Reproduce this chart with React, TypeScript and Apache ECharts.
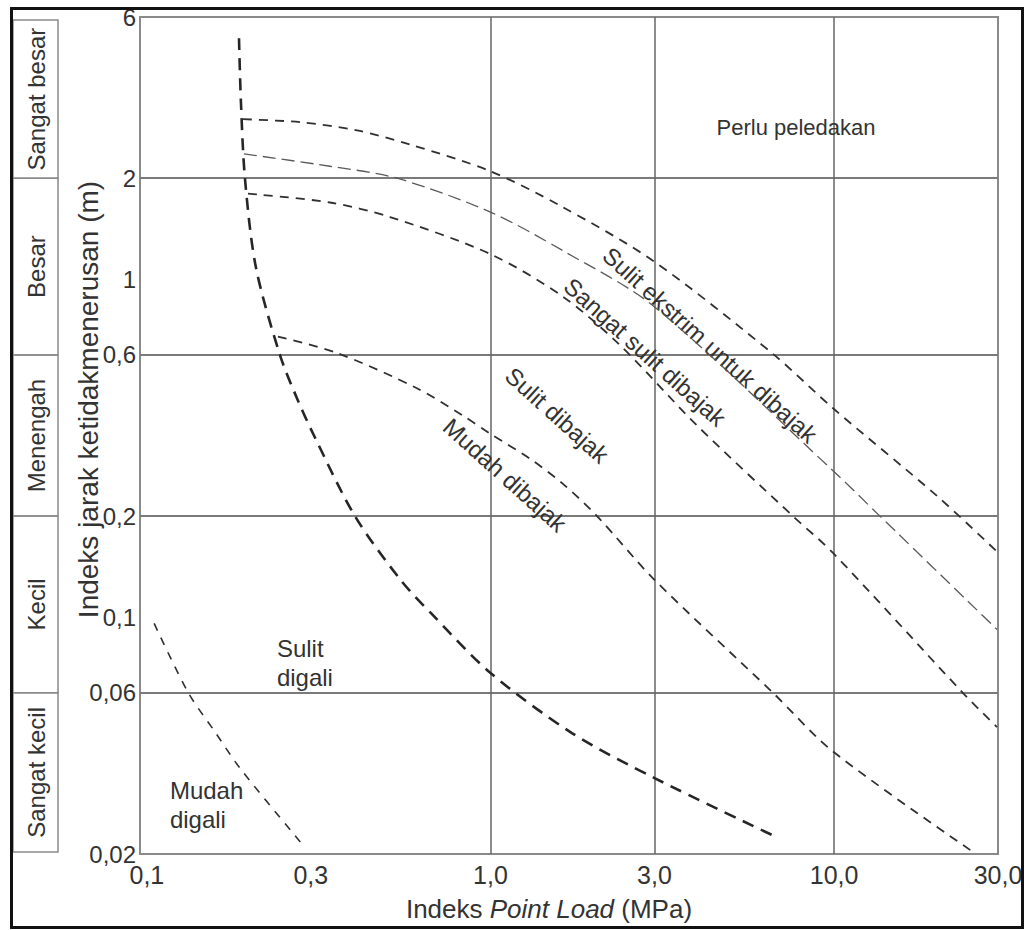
import React, { useEffect, useRef } from "react";
import * as echarts from "echarts";

const FONT = "'Liberation Sans', Arial, Helvetica, sans-serif";
const TEXT = "#333";

// Axis ranges (raw values; axes are drawn in log10 space)
const xMin = 0.0955;
const xMax = 30;
const yMin = 0.02;
const yMax = 6;

// Tick labels
const xTickValues = [0.1, 0.3, 1, 3, 10, 30];
const xTickLabels = ["0,1", "0,3", "1,0", "3,0", "10,0", "30,0"];
const xGridValues = [1, 3, 10];
const yTickValues = [0.02, 0.06, 0.1, 0.2, 0.6, 1, 2, 6];
const yTickLabels = ["0,02", "0,06", "0,1", "0,2", "0,6", "1", "2", "6"];
const yGridValues = [0.06, 0.2, 0.6, 2];

// Spacing classes on the left (boundaries top -> bottom)
const classBounds = [6, 2, 0.6, 0.2, 0.06, 0.02];
const classNames = ["Sangat besar", "Besar", "Menengah", "Kecil", "Sangat kecil"];

// Boundary curves [Point Load index (MPa), discontinuity spacing (m)]
const curveDigali = [
  [0.1854, 5.19], [0.1878, 3.37], [0.193, 1.99], [0.2077, 1.088], [0.2439, 0.6],
  [0.2734, 0.4467], [0.3064, 0.3464], [0.4033, 0.2], [0.549, 0.129], [0.6756, 0.1025],
  [0.9966, 0.0689], [1.726, 0.0456], [3.012, 0.0335], [6.64, 0.0227],
];
const curveEkstrimUpper = [
  [0.1905, 2.99], [0.279, 2.93], [0.4088, 2.77], [0.5831, 2.517], [0.9966, 2.1],
  [1.593, 1.66], [2.971, 1.14], [6.64, 0.604], [9.93, 0.417], [19.93, 0.2295],
  [29.8, 0.157],
];
const curveEkstrimLower = [
  [0.1917, 2.36], [0.341, 2.17], [0.5343, 2.0], [0.9966, 1.59], [1.626, 1.22],
  [2.991, 0.835], [9.93, 0.2725], [13.6, 0.2], [29.8, 0.0924],
];
const curveSangatSulit = [
  [0.1969, 1.8], [0.341, 1.695], [0.5099, 1.535], [0.9966, 1.194], [1.626, 0.892],
  [2.382, 0.641], [3.99, 0.371], [7.59, 0.2], [9.93, 0.1556], [23.7, 0.06],
  [29.8, 0.0475],
];
const curveMudahDibajak = [
  [0.2407, 0.68], [0.3574, 0.608], [0.611, 0.478], [0.8317, 0.3966], [0.9966, 0.351],
  [1.303, 0.2958], [1.626, 0.2491], [2.042, 0.2], [2.991, 0.13], [6.64, 0.06],
  [9.93, 0.0402], [25.7, 0.0201],
];
const curveMudahDigali = [
  [0.105, 0.0963], [0.132, 0.06], [0.158, 0.0459], [0.187, 0.0358], [0.284, 0.0213],
];

// Region labels: [text, x, y, rotation(deg), align, fontSize]
const regionLabels: [string, number, number, number, string, number][] = [
  ["Perlu peledakan", 7.75, 2.835, 0, "center", 22],
  ["Sulit ekstrim untuk dibajak", 4.353, 0.642, -42, "center", 24],
  ["Sangat sulit dibajak", 2.818, 0.612, -42, "center", 24],
  ["Sulit dibajak", 1.562, 0.398, -42, "center", 24],
  ["Mudah dibajak", 1.102, 0.2646, -42, "center", 24],
  ["Sulit\ndigali", 0.239, 0.0735, 0, "left", 24],
  ["Mudah\ndigali", 0.1167, 0.0279, 0, "left", 24],
];

const lg = (v: number) => Math.log10(v);
const toLog = (arr: number[][]) => arr.map(([x, y]) => [lg(x), lg(y)]);

function labelFor(values: number[], labels: string[], v: number) {
  let best = 0;
  let bd = Infinity;
  values.forEach((t, i) => {
    const d = Math.abs(lg(t) - v);
    if (d < bd) {
      bd = d;
      best = i;
    }
  });
  return labels[best];
}

function lineSeries(name: string, data: number[][], color: string, width: number, dash: number[]) {
  return {
    name,
    type: "line",
    data: toLog(data),
    smooth: 0.3,
    showSymbol: false,
    symbol: "none",
    silent: true,
    lineStyle: { color, width, type: dash },
  };
}

export default function App() {
  const ref = useRef<HTMLDivElement>(null);

  useEffect(() => {
    if (!ref.current) return;
    const chart = echarts.init(ref.current, null, { renderer: "svg" });
    const option: any = {
      animation: false,
      backgroundColor: "#ffffff",
      textStyle: { fontFamily: FONT },
      grid: {
        left: 140,
        right: 30,
        top: 17,
        bottom: 76,
        show: true,
        borderColor: "#8a8a8a",
        borderWidth: 2,
      },
      xAxis: {
        type: "value",
        min: lg(xMin),
        max: lg(xMax),
        axisLine: { show: false },
        axisTick: { show: false, customValues: xGridValues.map(lg) },
        splitLine: { show: true, lineStyle: { color: "#666", width: 1.5 } },
        axisLabel: {
          customValues: xTickValues.map(lg),
          formatter: (v: number) => labelFor(xTickValues, xTickLabels, v),
          fontSize: 25,
          color: TEXT,
          margin: 8,
          fontFamily: FONT,
        },
        name: "Indeks {i|Point Load} (MPa)",
        nameLocation: "middle",
        nameGap: 42,
        nameMoveOverlap: false,
        nameTextStyle: {
          fontSize: 26,
          color: TEXT,
          fontFamily: FONT,
          padding: [0, 40, 0, 0],
          rich: { i: { fontStyle: "italic", fontSize: 26, color: TEXT, fontFamily: FONT } },
        },
      },
      yAxis: {
        type: "value",
        min: lg(yMin),
        max: lg(yMax),
        axisLine: { show: false },
        axisTick: { show: false, customValues: yGridValues.map(lg) },
        splitLine: { show: true, lineStyle: { color: "#7a7a7a", width: 1.8 } },
        axisLabel: {
          customValues: yTickValues.map(lg),
          formatter: (v: number) => labelFor(yTickValues, yTickLabels, v),
          fontSize: 24,
          color: TEXT,
          margin: 4,
          fontFamily: FONT,
        },
        name: "Indeks jarak ketidakmenerusan (m)",
        nameLocation: "middle",
        nameGap: 38,
        nameMoveOverlap: false,
        nameTextStyle: {
          fontSize: 28,
          color: TEXT,
          fontFamily: FONT,
          padding: [0, 0, 0, 72],
        },
      },
      series: [
        lineSeries("Batas digali", curveDigali, "#262626", 2.6, [12, 8]),
        lineSeries("Sulit ekstrim atas", curveEkstrimUpper, "#303030", 1.8, [9, 7]),
        lineSeries("Sulit ekstrim bawah", curveEkstrimLower, "#5a5a5a", 1.3, [13, 6]),
        lineSeries("Sangat sulit", curveSangatSulit, "#303030", 1.8, [9, 7]),
        lineSeries("Mudah dibajak", curveMudahDibajak, "#303030", 1.8, [9, 7]),
        lineSeries("Mudah digali", curveMudahDigali, "#303030", 1.6, [8, 8]),
      ],
    };
    chart.setOption(option);

    const py = (v: number) => chart.convertToPixel({ yAxisIndex: 0 }, lg(v)) as number;
    const px = (v: number) => chart.convertToPixel({ xAxisIndex: 0 }, lg(v)) as number;

    const graphics: any[] = [];
    // class boxes on the left
    for (let i = 0; i < classNames.length; i++) {
      const y0 = py(classBounds[i]) + (i === 0 ? 3 : 0);
      const y1 = py(classBounds[i + 1]) - (i === classNames.length - 1 ? 2 : 0);
      graphics.push({
        type: "rect",
        silent: true,
        shape: { x: 13, y: y0, width: 45, height: y1 - y0 },
        style: { fill: "none", stroke: "#8a8a8a", lineWidth: 1.5 },
      });
      graphics.push({
        type: "text",
        silent: true,
        x: 36,
        y: (y0 + y1) / 2,
        rotation: Math.PI / 2,
        style: {
          text: classNames[i],
          font: `24px ${FONT}`,
          fill: TEXT,
          align: "center",
          verticalAlign: "middle",
        },
      });
    }
    // region labels
    regionLabels.forEach(([text, x, y, rot, align, size]) => {
      graphics.push({
        type: "text",
        silent: true,
        x: px(x),
        y: py(y),
        rotation: (rot * Math.PI) / 180,
        style: {
          text,
          font: `${size}px ${FONT}`,
          fill: TEXT,
          align,
          verticalAlign: "middle",
          lineHeight: 29,
        },
      });
    });
    // outer frame
    graphics.push({
      type: "rect",
      silent: true,
      z: 100,
      shape: { x: 11.5, y: 8.5, width: 1011, height: 919 },
      style: { fill: "none", stroke: "#111", lineWidth: 3 },
    });
    chart.setOption({ graphic: graphics });

    return () => chart.dispose();
  }, []);

  return (
    <div
      ref={ref}
      style={{ position: "fixed", left: 0, top: 0, width: 1028, height: 930, background: "#fff" }}
    />
  );
}
